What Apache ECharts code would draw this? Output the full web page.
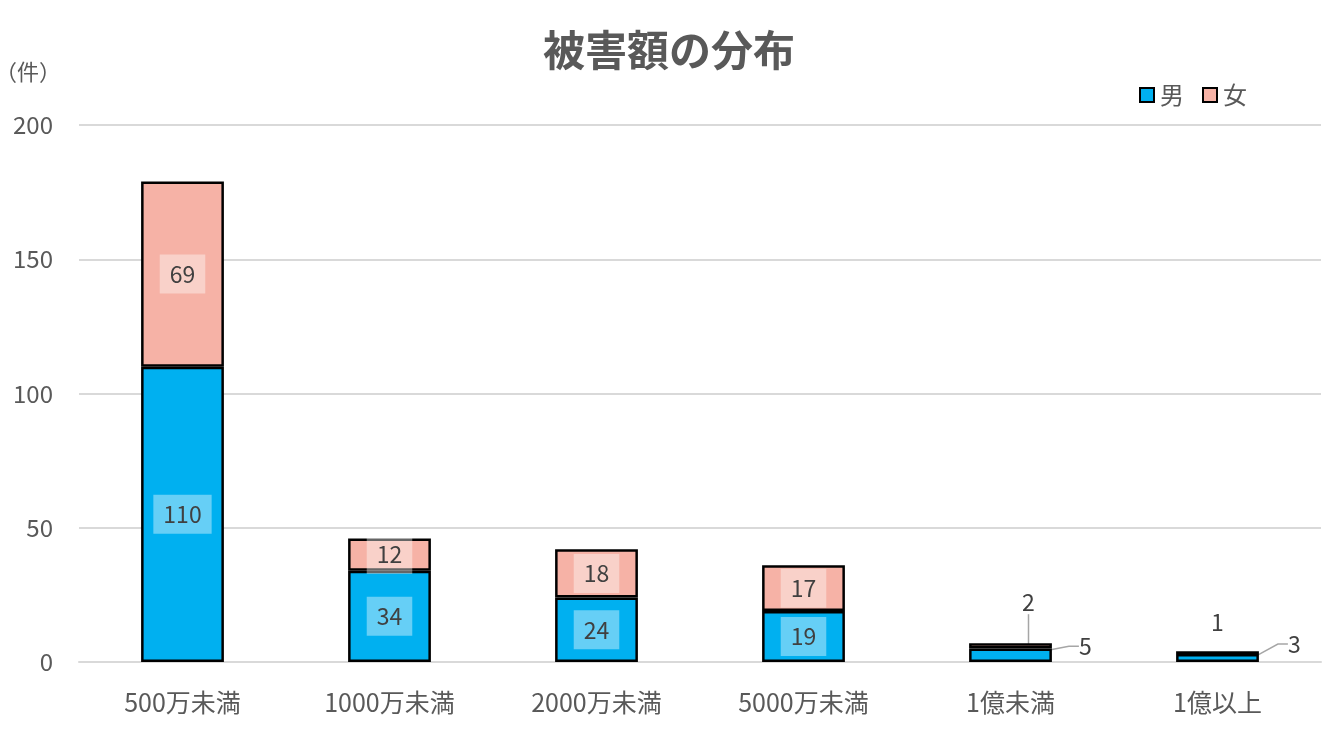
<!DOCTYPE html>
<html>
<head>
<meta charset="utf-8">
<script src="https://cdn.jsdelivr.net/npm/echarts@6/dist/echarts.min.js"></script>
<style>
html,body{margin:0;padding:0;background:#fff;}
#c{width:1338px;height:741px;}
</style>
</head>
<body>
<div id="c"></div>
<script>
const categories = ['500万未満', '1000万未満', '2000万未満', '5000万未満', '1億未満', '1億以上'];
const maleValues = [110, 34, 24, 19, 5, 3];
const femaleValues = [69, 12, 18, 17, 2, 1];
const seriesNames = ['男', '女'];
const yTicks = [0, 50, 100, 150, 200];

const FONT = '"Noto Sans CJK JP", "Noto Sans", sans-serif';
const TEXT = '#595959';
const LABEL = '#404040';

// label nudges for the tiny segments (index -> layout)
const maleLayout = { 4: { dx: 22, dy: -9 }, 5: { dx: 24, dy: -14 } };
const femaleLayout = { 4: { dx: 18, dy: -24 }, 5: { dx: 0, dy: -12 } };
const femaleLine = { 4: true, 5: false };

function buildData(values, layout, lineFlags, isMale) {
  return values.map((v, i) => {
    const item = { value: v };
    if (layout[i]) {
      item.label = {
        position: isMale ? 'right' : 'top',
        backgroundColor: 'transparent',
        padding: 0
      };
      item.labelLine = {
        show: lineFlags ? !!lineFlags[i] : true,
        length2: isMale ? 10 : 0,
        lineStyle: { color: '#A6A6A6', width: 1.5 }
      };
    }
    return item;
  });
}

const chart = echarts.init(document.getElementById('c'), null, { renderer: 'canvas' });

const baseLabel = {
  show: true,
  position: 'inside',
  fontFamily: FONT,
  fontSize: 23,
  color: LABEL,
  backgroundColor: 'rgba(255,255,255,0.4)',
  padding: [8, 10, 8, 10]
};

chart.setOption({
  animation: false,
  textStyle: { fontFamily: FONT },
  title: {
    text: '被害額の分布',
    left: 'center',
    top: 24,
    textStyle: { fontFamily: FONT, fontSize: 42, fontWeight: 'bold', color: TEXT }
  },
  legend: {
    data: seriesNames,
    right: 86,
    top: 78,
    itemWidth: 14,
    itemHeight: 14,
    itemGap: 18,
    icon: 'rect',
    textStyle: { fontFamily: FONT, fontSize: 24, color: TEXT, padding: [0, 0, 0, 1] }
  },
  grid: { left: 79, right: 17, top: 125, bottom: 79, containLabel: false, outerBoundsMode: 'none' },
  xAxis: {
    type: 'category',
    data: categories,
    axisLine: { show: true, lineStyle: { color: '#D9D9D9', width: 2 } },
    axisTick: { show: false },
    axisLabel: { fontFamily: FONT, fontSize: 25, color: TEXT, margin: 28 }
  },
  yAxis: {
    type: 'value',
    min: yTicks[0],
    max: yTicks[yTicks.length - 1],
    interval: 50,
    name: '（件）',
    nameLocation: 'end',
    nameGap: 42,
    nameTextStyle: { fontFamily: FONT, fontSize: 22, color: TEXT, align: 'left', padding: [0, 0, 0, -84] },
    axisLine: { show: false },
    axisTick: { show: false },
    axisLabel: { fontFamily: FONT, fontSize: 24, color: TEXT, margin: 26 },
    splitLine: { lineStyle: { color: '#D9D9D9', width: 2 } }
  },
  series: [
    {
      name: seriesNames[0],
      type: 'bar',
      stack: 'total',
      barWidth: '40%',
      itemStyle: { color: '#00B0F0', borderColor: '#000', borderWidth: 2.5 },
      label: baseLabel,
      labelLayout: function (p) { return maleLayout[p.dataIndex] || {}; },
      data: buildData(maleValues, maleLayout, null, true)
    },
    {
      name: seriesNames[1],
      type: 'bar',
      stack: 'total',
      barWidth: '40%',
      itemStyle: { color: '#F6B2A6', borderColor: '#000', borderWidth: 2.5 },
      label: baseLabel,
      labelLayout: function (p) { return femaleLayout[p.dataIndex] || {}; },
      data: buildData(femaleValues, femaleLayout, femaleLine, false)
    }
  ]
});
</script>
</body>
</html>
